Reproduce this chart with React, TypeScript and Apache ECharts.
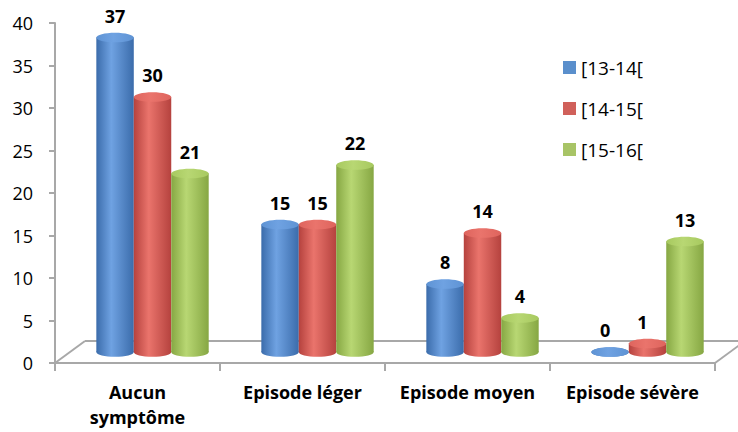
import React, { useEffect, useRef } from "react";
import * as echarts from "echarts";

const categories = ["Aucun\nsymptôme", "Episode léger", "Episode moyen", "Episode sévère"];
const seriesNames = ["[13-14[", "[14-15[", "[15-16["];
const values1314 = [37, 15, 8, 0];
const values1415 = [30, 15, 14, 1];
const values1516 = [21, 22, 4, 13];
const yTicks = { min: 0, max: 40, interval: 5 };

// colour sets for each cylinder: [edge, highlight, cap, legend]
const palettes = [
  { edge: "#3b6cab", light: "#6fa2e2", cap: "#5e93d4", legend: "#5a8fcc" },
  { edge: "#b5423e", light: "#ea746c", cap: "#de645d", legend: "#d0605a" },
  { edge: "#86a743", light: "#b8d773", cap: "#a7c95f", legend: "#a8c466" },
];

const AXIS_GREY = "#a8a8a8";
const FONT = "'Open Sans', 'Liberation Sans', sans-serif";

function cylinderSeries(name: string, data: number[], idx: number) {
  const p = palettes[idx];
  return {
    type: "custom",
    name,
    itemStyle: { color: p.legend },
    z: 3,
    data: data.map((v, i) => [i, v]),
    renderItem: (params: any, api: any) => {
      const cat = api.value(0);
      const v = api.value(1);
      const base = api.coord([cat, 0]);
      const top = api.coord([cat, v]);
      const band = api.size([1, 0])[0];
      const w = band * 0.227;
      const dx = band * 0.091;
      const dy = 11;
      const cx = base[0] + dx + (idx - 1) * w;
      const yb = base[1] - dy;
      const yt = top[1] - dy;
      const ry = w * 0.13;
      const grad = new echarts.graphic.LinearGradient(0, 0, 1, 0, [
        { offset: 0, color: p.edge },
        { offset: 0.4, color: p.light },
        { offset: 1, color: p.edge },
      ]);
      const capGrad = new echarts.graphic.LinearGradient(0, 0, 1, 0, [
        { offset: 0, color: p.cap },
        { offset: 0.45, color: p.light },
        { offset: 1, color: p.cap },
      ]);
      return {
        type: "group",
        children: [
          { type: "ellipse", shape: { cx, cy: yb, rx: w / 2, ry }, style: { fill: grad } },
          { type: "rect", shape: { x: cx - w / 2, y: yt, width: w, height: yb - yt }, style: { fill: grad } },
          { type: "ellipse", shape: { cx, cy: yt, rx: w / 2, ry }, style: { fill: capGrad } },
          {
            type: "text",
            style: {
              text: String(v),
              x: cx - (v <= 1 ? 5 : 0),
              y: yt - ry - 8,
              align: "center",
              verticalAlign: "bottom",
              fill: "#000",
              font: `bold 18px ${FONT}`,
            },
          },
        ],
      };
    },
  };
}

// floor of the plot: front edge is the category axis, the rest is drawn here
const floorSeries = {
  type: "custom",
  name: "floor",
  silent: true,
  z: 1,
  data: [[0, 0]],
  renderItem: (params: any, api: any) => {
    const cs = params.coordSys;
    const x0 = cs.x;
    const x1 = cs.x + cs.width;
    const yF = cs.y + cs.height;
    const ddx = 30;
    const ddy = 22;
    const line = (a: number[], b: number[]) => ({
      type: "line",
      shape: { x1: a[0], y1: a[1], x2: b[0], y2: b[1] },
      style: { stroke: AXIS_GREY, lineWidth: 2 },
    });
    return {
      type: "group",
      children: [
        line([x0, yF], [x0 + ddx, yF - ddy]),
        line([x0 + ddx, yF - ddy], [x1 + ddx + 10, yF - ddy]),
        line([x1, yF], [x1 + ddx, yF - ddy]),
      ],
    };
  },
};

export default function App() {
  const ref = useRef<HTMLDivElement>(null);
  useEffect(() => {
    if (!ref.current) return;
    document.body.style.margin = "0";
    const chart = echarts.init(ref.current, null, { renderer: "svg" });
    chart.setOption({
      animation: false,
      backgroundColor: "#ffffff",
      grid: { left: 55, right: 23, top: 23, bottom: 69, containLabel: false },
      legend: {
        orient: "vertical",
        left: 558,
        top: 53,
        itemWidth: 13,
        itemHeight: 13,
        itemGap: 22,
        icon: "rect",
        data: seriesNames,
        textStyle: { fontFamily: FONT, fontSize: 19, color: "#000" },
      },
      xAxis: {
        type: "category",
        data: categories,
        boundaryGap: true,
        axisLine: { lineStyle: { color: AXIS_GREY, width: 2 } },
        axisTick: { show: true, length: 8, lineStyle: { color: AXIS_GREY, width: 2 } },
        axisLabel: {
          margin: 16,
          fontFamily: FONT,
          fontWeight: "bold",
          fontSize: 18,
          lineHeight: 25,
          color: "#000",
          interval: 0,
        },
      },
      yAxis: {
        type: "value",
        min: yTicks.min,
        max: yTicks.max,
        interval: yTicks.interval,
        splitLine: { show: false },
        axisLine: { show: true, lineStyle: { color: AXIS_GREY, width: 2 } },
        axisTick: { show: true, length: 6, lineStyle: { color: AXIS_GREY, width: 2 } },
        axisLabel: { margin: 22, fontFamily: FONT, fontSize: 18, color: "#000" },
      },
      series: [
        floorSeries,
        cylinderSeries(seriesNames[0], values1314, 0),
        cylinderSeries(seriesNames[1], values1415, 1),
        cylinderSeries(seriesNames[2], values1516, 2),
      ],
    });
    return () => chart.dispose();
  }, []);
  return <div ref={ref} style={{ width: 738, height: 432 }} />;
}
